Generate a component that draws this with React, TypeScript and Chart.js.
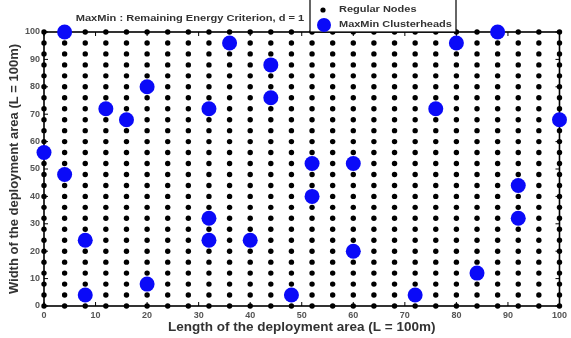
import { useEffect, useRef } from 'react';
import { Chart, registerables } from 'chart.js';

Chart.register(...registerables);

const TITLE = 'MaxMin : Remaining Energy Criterion, d = 1';
const X_TITLE = 'Length of the deployment area (L = 100m)';
const Y_TITLE = 'Width of the deployment area (L = 100m)';
const LEGEND_LABELS = ['Regular Nodes', 'MaxMin Clusterheads'];

const TICKS = [0, 10, 20, 30, 40, 50, 60, 70, 80, 90, 100];
const GRID_X = [0, 4, 8, 12, 16, 20, 24, 28, 32, 36, 40, 44, 48, 52, 56, 60, 64, 68, 72, 76, 80, 84, 88, 92, 96, 100];
const GRID_Y = [0, 4, 8, 12, 16, 20, 24, 28, 32, 36, 40, 44, 48, 52, 56, 60, 64, 68, 72, 76, 80, 84, 88, 92, 96, 100];

const CH_X = [4, 0, 4, 8, 8, 12, 16, 20, 20, 32, 32, 32, 36, 40, 44, 44, 48, 52, 52, 60, 60, 72, 76, 80, 84, 88, 92, 92, 100];
const CH_Y = [100, 56, 48, 24, 4, 72, 68, 80, 8, 72, 32, 24, 96, 24, 88, 76, 4, 52, 40, 52, 20, 4, 72, 96, 12, 100, 44, 32, 68];

const BLUE = '#0a0af8';
const FONT = "'Liberation Sans', Arial, sans-serif";

function stretchedText(ctx: any, text: string, x: number, y: number, sx: number, align: 'left' | 'center') {
  ctx.save();
  ctx.translate(x, y);
  ctx.scale(sx, 1);
  ctx.textAlign = align;
  ctx.fillText(text, 0, 0);
  ctx.restore();
}

const framePlugin = {
  id: 'frame',
  beforeDatasetsDraw(chart: any) {
    const { ctx, chartArea: a, scales } = chart;
    ctx.save();
    ctx.strokeStyle = '#000';
    ctx.lineWidth = 1.6;
    ctx.strokeRect(a.left, a.top, a.right - a.left, a.bottom - a.top);
    ctx.lineWidth = 1;
    const L = 4;
    ctx.beginPath();
    for (const t of TICKS) {
      const px = scales.x.getPixelForValue(t);
      const py = scales.y.getPixelForValue(t);
      ctx.moveTo(px, a.bottom); ctx.lineTo(px, a.bottom - L);
      ctx.moveTo(px, a.top); ctx.lineTo(px, a.top + L);
      ctx.moveTo(a.left, py); ctx.lineTo(a.left + L, py);
      ctx.moveTo(a.right, py); ctx.lineTo(a.right - L, py);
    }
    ctx.stroke();
    ctx.restore();
  },
  afterDraw(chart: any) {
    const { ctx } = chart;
    ctx.save();
    // title
    ctx.fillStyle = '#333';
    ctx.font = `bold 9px ${FONT}`;
    ctx.textBaseline = 'middle';
    stretchedText(ctx, TITLE, 190, 19, 1.23, 'center');
    // legend box
    ctx.fillStyle = '#fff';
    ctx.fillRect(310, -2, 146, 34);
    ctx.strokeStyle = '#000';
    ctx.lineWidth = 1.2;
    ctx.strokeRect(310, -2, 146, 34);
    ctx.fillStyle = '#000';
    ctx.beginPath();
    ctx.arc(323, 10, 2.6, 0, Math.PI * 2);
    ctx.fill();
    ctx.fillStyle = BLUE;
    ctx.beginPath();
    ctx.arc(324, 25, 7, 0, Math.PI * 2);
    ctx.fill();
    ctx.fillStyle = '#333';
    ctx.font = `bold 9px ${FONT}`;
    stretchedText(ctx, LEGEND_LABELS[0], 339, 10, 1.22, 'left');
    stretchedText(ctx, LEGEND_LABELS[1], 339, 25, 1.22, 'left');
    ctx.restore();
  },
};

export default function App() {
  const ref = useRef<HTMLCanvasElement>(null);
  useEffect(() => {
    const regular: { x: number; y: number }[] = [];
    for (const x of GRID_X) for (const y of GRID_Y) regular.push({ x, y });
    const heads = CH_X.map((x, i) => ({ x, y: CH_Y[i] }));
    const tickFont = { family: FONT, size: 9, weight: 'bold' as const };
    const chart = new Chart(ref.current!, {
      type: 'scatter',
      data: {
        datasets: [
          { label: LEGEND_LABELS[0], data: regular, order: 2, pointRadius: 2.7, backgroundColor: '#000', borderWidth: 0, clip: false } as any,
          { label: LEGEND_LABELS[1], data: heads, order: 1, pointRadius: 7.5, backgroundColor: BLUE, borderWidth: 0, clip: false } as any,
        ],
      },
      options: {
        animation: false,
        responsive: false,
        events: [],
        layout: { padding: { top: 32, right: 5, left: 0, bottom: 0 } },
        plugins: { legend: { display: false }, title: { display: false }, tooltip: { enabled: false } },
        scales: {
          x: {
            type: 'linear', min: 0, max: 100,
            grid: { display: false, drawTicks: false },
            border: { display: false },
            ticks: { stepSize: 10, padding: 4, font: tickFont, color: '#555', maxRotation: 0, autoSkip: false },
            title: { display: true, text: X_TITLE, font: { family: FONT, size: 13.5, weight: 'bold' }, color: '#333', padding: { top: 0, bottom: 3 } },
            afterFit: (s: any) => { s.height = 32; },
          },
          y: {
            type: 'linear', min: 0, max: 100,
            grid: { display: false, drawTicks: false },
            border: { display: false },
            ticks: { stepSize: 10, padding: 4, font: tickFont, color: '#555', autoSkip: false },
            title: { display: true, text: Y_TITLE, font: { family: FONT, size: 13, weight: 'bold' }, color: '#333', padding: { top: 7, bottom: 0 } },
            afterFit: (s: any) => { s.width = 44; },
          },
        },
      },
      plugins: [framePlugin],
    });
    return () => chart.destroy();
  }, []);
  return (
    <div style={{ position: 'fixed', left: 0, top: 0, width: 571, height: 338, background: '#fff' }}>
      <canvas ref={ref} width={571} height={338} style={{ display: 'block' }} />
    </div>
  );
}
